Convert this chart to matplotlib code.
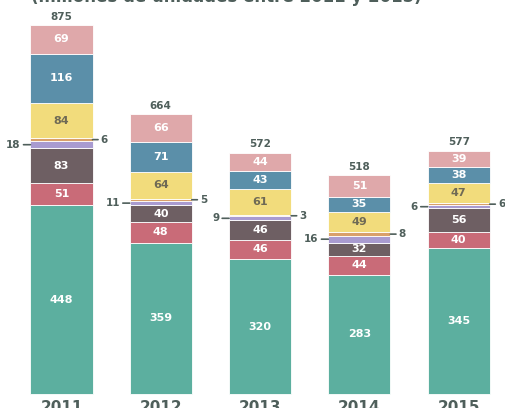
import numpy as np
import matplotlib
matplotlib.use('Agg')
from matplotlib import pyplot as plt

plt.rcParams['font.family'] = ['Liberation Sans Narrow', 'DejaVu Sans']

years = ['2011', '2012', '2013', '2014', '2015']
# segments, bottom to top
base = [448, 359, 320, 283, 345]
red = [51, 48, 46, 44, 40]
brown = [83, 40, 46, 32, 56]
purple = [18, 11, 9, 16, 6]
orange = [6, 5, 3, 8, 6]
yellow = [84, 64, 61, 49, 47]
blue = [116, 71, 43, 35, 38]
pink = [69, 66, 44, 51, 39]

series = [base, red, brown, purple, orange, yellow, blue, pink]
colors = ['#5caf9f', '#c96b78', '#6e5f63', '#a99bd0', '#d9a06a',
          '#f2dc7c', '#5b8fa9', '#dfa8aa']
txt_colors = ['white', 'white', 'white', None, None, '#6f6a55', 'white', 'white']
dark = '#4f5f5b'

fig = plt.figure(figsize=(5.05, 4.08), dpi=100)
ax = fig.add_axes([0, 0, 1, 1])
ax.set_xlim(-0.619, 4.466)
ax.set_ylim(-33.2, 934)
ax.axis('off')

x = np.arange(len(years))
w = 0.625
bottom = np.zeros(len(years))
for vals, col, tc in zip(series, colors, txt_colors):
    vals = np.array(vals)
    ax.bar(x, vals, w, bottom=bottom, color=col, edgecolor='white', linewidth=0.6)
    if tc is not None:
        for i in range(len(years)):
            ax.text(x[i], bottom[i] + vals[i] / 2, str(vals[i]), ha='center', va='center',
                    color=tc, fontsize=8, fontweight='bold')
    bottom = bottom + vals

# small segments with leader lines
b_purple = np.array(base) + np.array(red) + np.array(brown)
for i in range(len(years)):
    yp = b_purple[i] + purple[i] / 2
    yo = b_purple[i] + purple[i] + orange[i] / 2
    ax.annotate(str(purple[i]), xy=(x[i] - w / 2, yp), xytext=(-7, 0), textcoords='offset points',
                ha='right', va='center', fontsize=7.5, fontweight='bold', color=dark,
                arrowprops=dict(arrowstyle='-', color=dark, lw=1.2, shrinkA=0, shrinkB=0))
    ax.annotate(str(orange[i]), xy=(x[i] + w / 2, yo), xytext=(6, 0), textcoords='offset points',
                ha='left', va='center', fontsize=7.5, fontweight='bold', color=dark,
                arrowprops=dict(arrowstyle='-', color=dark, lw=1.2, shrinkA=0, shrinkB=0))

# totals
for i in range(len(years)):
    ax.text(x[i], bottom[i] + 8, str(int(bottom[i])), ha='center', va='bottom',
            fontsize=7.5, fontweight='bold', color=dark)

# year labels (cut at the bottom edge, as in the source)
for i in range(len(years)):
    ax.text(x[i], -14, years[i], ha='center', va='top', fontsize=11,
            fontweight='bold', color=dark)

ax.text(-0.31, 920, '(millones de unidades entre 2011 y 2015)', ha='left', va='bottom',
        fontsize=12, fontweight='bold', color=dark)

fig.savefig('out.png', dpi=100)
